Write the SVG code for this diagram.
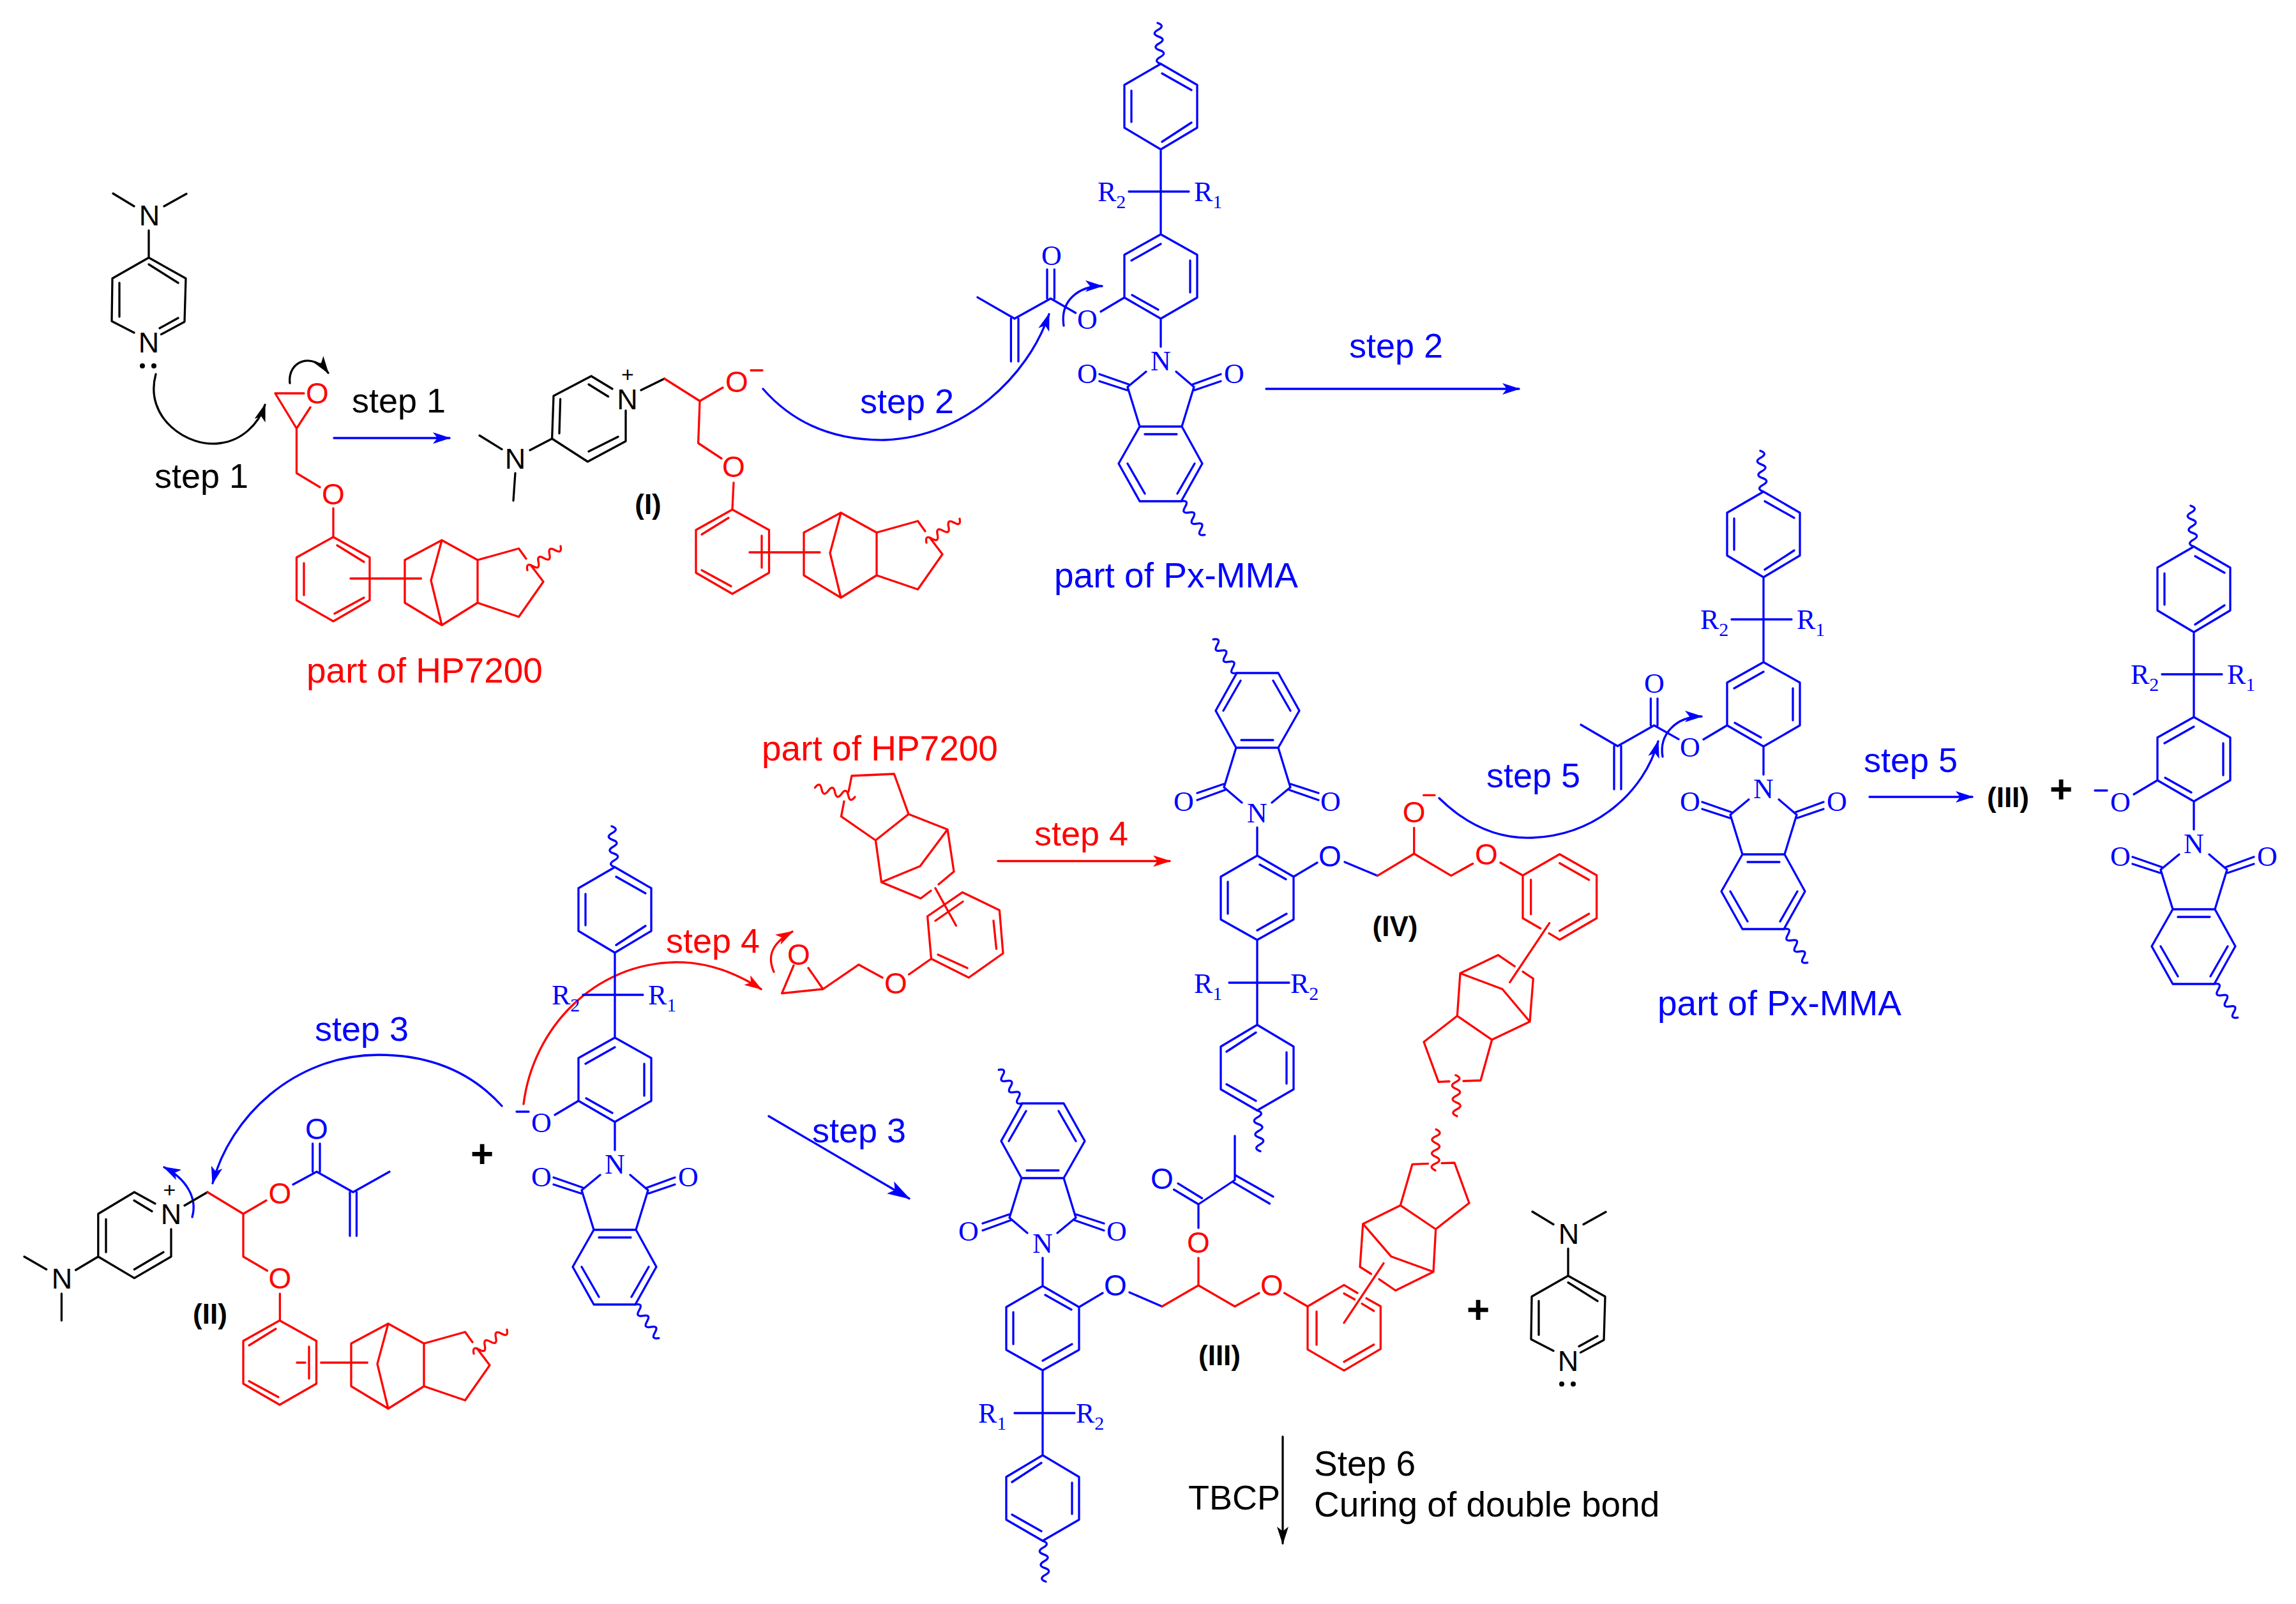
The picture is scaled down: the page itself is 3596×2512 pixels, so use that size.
<svg xmlns="http://www.w3.org/2000/svg" width="3596" height="2512" viewBox="0 0 3596 2512">
<style>
path,polyline,line{fill:none;stroke-width:3.3;stroke-linejoin:round;stroke-linecap:round}
.k{stroke:#000}.b{stroke:#00f}.r{stroke:#f00}
.hk{fill:#000;stroke:none}.hb{fill:#00f;stroke:none}.hr{fill:#f00;stroke:none}
text{font-family:"Liberation Sans",Arial,sans-serif;stroke:none}
.tk{fill:#000}.tb{fill:#00f}.tr{fill:#f00}
.m{text-anchor:middle}
.lab{font-size:54px}
.lab2{font-size:55px}
.at{font-size:45px}
.at2{font-size:46px}
.sf{font-family:"Liberation Serif","Times New Roman",serif;font-size:44px;fill:#00f}
.sb{font-size:30px}
.id{font-size:44px;font-weight:bold;text-anchor:middle;fill:#000}
.pl{font-size:62px;font-weight:bold;text-anchor:middle;fill:#000}
.ch{font-size:34px;text-anchor:middle;fill:#000}
.dot{fill:#000;stroke:none}
</style>
<defs>
<marker id="ak" markerUnits="userSpaceOnUse" markerWidth="28" markerHeight="18" refX="26" refY="9" orient="auto"><path class="hk" d="M0 0L28 9 0 18 7 9z"/></marker>
<marker id="ab" markerUnits="userSpaceOnUse" markerWidth="28" markerHeight="18" refX="26" refY="9" orient="auto"><path class="hb" d="M0 0L28 9 0 18 7 9z"/></marker>
<marker id="ar" markerUnits="userSpaceOnUse" markerWidth="28" markerHeight="18" refX="26" refY="9" orient="auto"><path class="hr" d="M0 0L28 9 0 18 7 9z"/></marker>
<marker id="abl" markerUnits="userSpaceOnUse" markerWidth="36" markerHeight="22" refX="34" refY="11" orient="auto"><path class="hb" d="M0 0L36 11 0 22 8 11z"/></marker>
<path id="w" d="M0 0q-12-5.3 0-10.7t0-10.7 0-10.7 0-10.7 0-10.7 0-10.7"/>
<g id="pxB">
<path d="M0 0L57 33V100L0 134-57 100V33ZM2 15L48 41M2 122L48 92M-46 42V91M0 134V267M-50 200H44M0 267L57 299V366L0 399-57 366V299ZM-46 308L0 282M46 308V358M-45 362L-4 385M-57 366L-94 388M0 399V443M-23 482L-52 506-33 568H33L52 506 24 482M-25 580H25M-96 486L-50 502M-96 497L-53 511M94 486L50 502M94 497L53 511M-33 568L-66 626-33 685H32L65 626 33 568M-52 626L-25 673M53 626L26 673"/>
<use href="#w" transform="rotate(-4.5)"/>
<use href="#w" transform="translate(32 685) rotate(145)"/>
</g>
<g id="pxUp">
<use href="#pxB"/>
<text class="sf m" x="0" y="480">N</text>
<text class="sf m" x="-115" y="500">O</text>
<text class="sf m" x="115" y="500">O</text>
<text class="sf m" x="-115" y="415">O</text>
<text class="sf" x="-99" y="215">R<tspan class="sb" dy="11">2</tspan></text>
<text class="sf" x="52" y="215">R<tspan class="sb" dy="11">1</tspan></text>
</g>
<g id="hpRing"><path d="M0 0L57 32V99L0 132-57.5 99V32ZM6 13L48 39M-46 41V91M2 120L48 95"/></g>
<g id="hpTri">
<path d="M112 36L170 5 226 36V103L170 138 112 103ZM170 5L153 68 170 138M310 45L329 70 290.5 125 226 103M226 36L290.5 18 302 34"/>
<use href="#w" transform="translate(304 52) rotate(54)"/>
</g>
<g id="dmap">
<path class="k" d="M177 303L210 323M292 303.5L257 323M233 361V403.5L291 436 289 504 252.5 523.6M210 521L175 503 176 436 233 403.5M233 414L279 443M187 443V496M250 514L279 498"/>
<text class="at tk m" x="234" y="353">N</text>
<text class="at tk m" x="233" y="552">N</text>
<circle class="dot" cx="223" cy="573" r="4"/><circle class="dot" cx="241" cy="573" r="4"/>
</g>
</defs>

<g id="connectors">
<path class="k" marker-end="url(#ak)" d="M244 586C225 655 295 702 345 694C378 690 405 665 415 634"/>
<path class="k" marker-end="url(#ak)" d="M454 600C450 565 490 550 514 584"/>
<path class="b" marker-end="url(#ab)" d="M523 686H704"/>
<path class="b" marker-end="url(#ab)" d="M1195 609C1250 672 1320 690 1386 689C1510 685 1610 590 1643 492"/>
<path class="b" marker-end="url(#ab)" d="M1666 510C1660 470 1690 448 1726 448"/>
<path class="b" marker-end="url(#ab)" d="M1983 609H2379"/>
<path class="b" marker-end="url(#ab)" d="M2254 1250C2300 1295 2350 1314 2400 1312C2500 1308 2575 1240 2597 1161"/>
<path class="b" marker-end="url(#ab)" d="M2604 1185C2598 1150 2625 1122 2665 1122"/>
<path class="b" marker-end="url(#ab)" d="M2928 1248H3089"/>
<path class="r" marker-end="url(#ar)" d="M1563 1348.5H1832"/>
<path class="r" marker-end="url(#ar)" d="M1212 1522C1200 1495 1212 1475 1241 1459"/>
<path class="r" marker-end="url(#ar)" d="M820 1729C835 1610 930 1510 1056 1507C1110 1506 1155 1525 1192 1549"/>
<path class="b" marker-end="url(#ab)" d="M786 1732C730 1670 660 1652 593 1652C460 1652 360 1750 333 1853"/>
<path class="b" marker-end="url(#ab)" d="M301 1906C310 1875 290 1845 257 1828"/>
<path class="b" marker-end="url(#abl)" d="M1204 1748L1424 1877"/>
<path class="k" marker-end="url(#ak)" d="M2009 2250V2417"/>
</g>

<g id="step-labels">
<text class="lab tk" x="242" y="764">step 1</text>
<text class="lab tk" x="551" y="646">step 1</text>
<text class="lab tb" x="1347" y="647">step 2</text>
<text class="lab tb" x="2113" y="560">step 2</text>
<text class="lab tb" x="493" y="1630">step 3</text>
<text class="lab tb" x="1272" y="1789">step 3</text>
<text class="lab tr" x="1043" y="1492">step 4</text>
<text class="lab tr" x="1620" y="1324">step 4</text>
<text class="lab tb" x="2328" y="1233">step 5</text>
<text class="lab tb" x="2919" y="1209">step 5</text>
<text class="lab tk" x="1861" y="2364">TBCP</text>
<text class="lab2 tk" x="2058" y="2311">Step 6</text>
<text class="lab2 tk" x="2058" y="2375">Curing of double bond</text>
<text class="lab2 tr" x="480" y="1069">part of HP7200</text>
<text class="lab2 tr" x="1193" y="1191">part of HP7200</text>
<text class="lab2 tb" x="1651" y="920">part of Px-MMA</text>
<text class="lab2 tb" x="2596" y="1590">part of Px-MMA</text>
<text class="id" x="1015" y="805">(I)</text>
<text class="id" x="329" y="2073">(II)</text>
<text class="id" x="1910" y="2138">(III)</text>
<text class="id" x="3145" y="1264">(III)</text>
<text class="id" x="2185" y="1466">(IV)</text>
<text class="pl" x="755" y="1828">+</text>
<text class="pl" x="2315" y="2072">+</text>
<text class="pl" x="3228" y="1257">+</text>
</g>

<g id="dmap-top"><use href="#dmap"/></g>

<g id="hp7200-a" class="r">
<path d="M431 616H476M431 616L464.5 671 486 638M464.5 671V741L501 763M522 796V841"/>
<text class="at2 tr m" x="497" y="632">O</text>
<text class="at2 tr m" x="522" y="790">O</text>
<g transform="translate(522 841)"><use href="#hpRing"/><use href="#hpTri"/><path d="M27 65H137.5"/></g>
</g>

<g id="intermediate-I">
<path class="k" d="M959 609L926 589 867 620 864.6 687 920.4 723 980 691V643M922 602L952.6 621M877.6 625L876 678.6M922 707L968 684M864.6 687L830 705M751 682L786 703.6M807 741L804 784M1004 611L1040.6 593"/>
<text class="at tk m" x="982.5" y="641">N</text>
<text class="ch" x="983" y="598">+</text>
<text class="at tk m" x="807" y="734">N</text>
<path class="r" d="M1040.6 593L1096 628 1132 607M1176 580H1194M1096 628L1093.6 694 1130 718M1149 756L1147 797"/>
<text class="at2 tr m" x="1154" y="614">O</text>
<text class="at2 tr m" x="1149" y="747">O</text>
<g class="r" transform="translate(1147 798)"><use href="#hpRing" transform="scale(-1 1)"/><use href="#hpTri"/><path d="M27 67H137"/></g>
</g>

<g id="px-mma-a" class="b">
<g transform="translate(1818 100)"><use href="#pxUp"/></g>
<path d="M1531 465.6L1589 499 1645.6 467.5 1684.6 490M1640 422V467.5M1651.4 422V467.5M1583.4 499V566M1595 499V566"/>
<text class="sf m" x="1647" y="415">O</text>
</g>

<g id="px-mma-b" class="b">
<g transform="translate(2762 770)"><use href="#pxUp"/></g>
<path d="M2476 1135L2533.5 1168.5 2590.7 1136 2629 1157.6M2585.4 1094V1136M2596 1094V1136M2528 1168.5V1236M2539 1168.5V1236"/>
<text class="sf m" x="2591" y="1085">O</text>
</g>

<g id="phenolate-right" class="b">
<g transform="translate(3436 856)"><use href="#pxUp"/><path d="M-155 382H-136"/></g>
</g>

<g id="phenolate-left" class="b">
<g transform="translate(963 1358)"><use href="#pxUp"/><path d="M-154 383H-135"/></g>
</g>

<g id="hp7200-b" class="r">
<path d="M1334 1215L1400.4 1212 1423 1275 1371.4 1316 1317.5 1278.6 1322 1255M1329 1240L1334 1215M1423 1275L1484 1299 1494 1365 1470 1385M1458 1395L1442 1407 1380.5 1381.6 1371.4 1316M1484 1299L1441 1356.6 1380.5 1381.6M1465 1391L1497.4 1449.5M1507.4 1397.4L1565.4 1425.5 1571 1493 1517.3 1531 1458.5 1501.5 1452.6 1435ZM1556 1442L1560.5 1486M1469 1495L1515 1516M1465 1442L1508 1412M1458.5 1501.5L1423.6 1526M1382 1531L1345 1510.7 1289 1549 1224.6 1555.6 1243 1512M1266 1516L1289 1549"/>
<use href="#w" transform="translate(1339 1248) rotate(-77)"/>
<text class="at2 tr m" x="1403" y="1556">O</text>
<text class="at2 tr m" x="1251" y="1511">O</text>
</g>

<g id="intermediate-II">
<path class="k" d="M243 1885L210.4 1867 153.8 1901V1968L210.4 2001.6 268 1968V1925M210 1880L238 1897M166 1909.5V1961M210.4 1988L256 1961M153.8 1968L118.6 1989M38 1968L72.7 1988M96.4 2026V2068M289 1888L325 1867"/>
<text class="at tk m" x="268" y="1917">N</text>
<text class="ch" x="265.5" y="1875">+</text>
<text class="at tk m" x="97" y="2018">N</text>
<path class="r" d="M325 1867L381 1901 417 1880M381 1901V1968L418.5 1990M438.4 2026V2068"/>
<text class="at2 tr m" x="438.4" y="1885">O</text>
<text class="at2 tr m" x="438.4" y="2018">O</text>
<path class="b" d="M459 1855L496 1835 553 1867 610 1835M489.7 1791V1835M501 1791V1835M548 1867V1935.5M558.5 1867V1935.5"/>
<text class="at2 tb m" x="496" y="1784">O</text>
<g class="r" transform="translate(438 2068)"><use href="#hpRing" transform="scale(-1 1)"/><use href="#hpTri"/><path d="M27 66H40M64.7 66H137.4"/></g>
</g>

<g id="adduct-IV">
<g class="b" transform="translate(1969 1739) rotate(180)"><use href="#pxB"/></g>
<text class="sf m" x="1969" y="1288">N</text>
<text class="sf m" x="1854" y="1270">O</text>
<text class="sf m" x="2084" y="1270">O</text>
<text class="sf" x="1870" y="1555">R<tspan class="sb" dy="11">1</tspan></text>
<text class="sf" x="2021" y="1555">R<tspan class="sb" dy="11">2</tspan></text>
<text class="at2 tb m" x="2083" y="1357">O</text>
<path class="b" d="M2106 1350L2157.5 1371.4"/>
<path class="r" d="M2157.5 1371.4L2214.7 1337V1296.4M2229.6 1245.4H2247M2214.7 1337L2272.7 1371.4 2306.7 1352.5M2350 1351L2385 1371 2442.7 1337.7 2500.7 1370.7V1438L2442.7 1471.7 2426 1461.7M2412.7 1454L2385 1438V1371M2442.7 1351.7L2488.7 1378M2488.7 1431L2442.7 1457.7M2397.7 1377.7V1431.7M2426.7 1445.7L2364.7 1538.3M2372.3 1513.3L2346.3 1495.7 2287 1524.3 2282.3 1591 2336.7 1628.3 2396 1600 2401.3 1532.7 2385 1521.7M2287 1524.3L2353 1549 2396 1600M2282.3 1591L2230 1631.7 2253 1694.4 2270 1693.5M2292 1693L2319 1692 2336.7 1628.3"/>
<use class="r" href="#w" transform="translate(2282 1748) rotate(-2)"/>
<text class="at2 tr m" x="2214.7" y="1288">O</text>
<text class="at2 tr m" x="2328" y="1354">O</text>
</g>

<g id="product-III">
<g class="b" transform="translate(1633 2413) rotate(180)"><use href="#pxB"/></g>
<text class="sf m" x="1633" y="1962">N</text>
<text class="sf m" x="1517" y="1943">O</text>
<text class="sf m" x="1749" y="1943">O</text>
<text class="sf" x="1532" y="2228">R<tspan class="sb" dy="11">1</tspan></text>
<text class="sf" x="1685" y="2228">R<tspan class="sb" dy="11">2</tspan></text>
<text class="at2 tb m" x="1747" y="2029">O</text>
<path class="b" d="M1769 2024L1820 2046M1877 1923V1886L1934 1848V1779M1845 1853.4L1882.5 1876.5M1838.6 1863L1877 1886M1934 1840L1994 1874M1930 1850.7L1988.5 1885"/>
<text class="at2 tb m" x="1820" y="1862">O</text>
<path class="r" d="M1820 2046L1877 2013V1970M1877 2013L1934 2046 1972 2025M2011.6 2025L2048 2046 2105 2012.3 2126 2025M2140 2033.3L2162.3 2045.7V2112.7L2105 2146.4 2048 2113.4V2046M2062 2054V2106M2105 2132.7L2151.7 2105.7M2105 2025.7L2121.7 2035M2133 2041.7L2151.7 2053M2167 1978.3L2105 2071.7M2134.7 1916.7L2193.3 1887.7 2248.7 1925 2245 1991.7 2185.7 2021 2160 2003.3M2147.3 1995L2130 1984 2134.7 1916.7 2178.7 1967.7 2245 1991.7M2193.3 1887.7L2212 1823.3 2236.7 1822.3M2258 1821.7L2278 1821 2301 1884 2248.7 1925"/>
<use class="r" href="#w" transform="translate(2248 1833) rotate(1)"/>
<text class="at2 tr m" x="1877" y="1962">O</text>
<text class="at2 tr m" x="1992" y="2029">O</text>
</g>

<g id="dmap-bottom" transform="translate(2223 1594.5)"><use href="#dmap"/></g>
</svg>
